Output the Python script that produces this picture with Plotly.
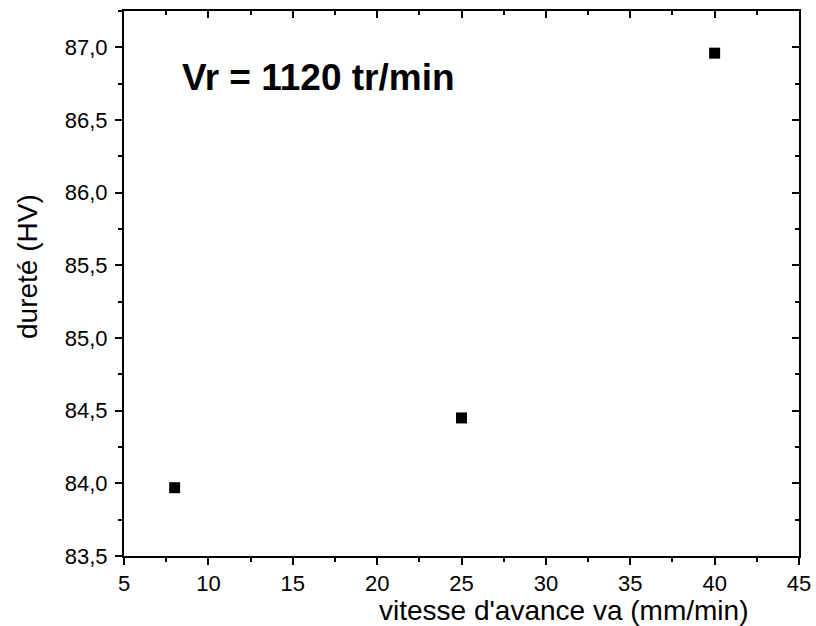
import plotly.graph_objects as go

vitesse = [8, 25, 40]
durete = [83.97, 84.45, 86.96]
x_range = [5, 45]
y_range = [83.5, 87.25]

fig = go.Figure()
fig.add_trace(go.Scatter(x=vitesse, y=durete, mode="markers",
                         marker=dict(symbol="square", size=11, color="black"),
                         showlegend=False))
fig.add_trace(go.Scatter(x=[None], y=[None], xaxis="x2", yaxis="y2", showlegend=False))

FAM = "Liberation Sans, Arial"
font = dict(family=FAM, size=22, color="black")
common = dict(showline=True, linewidth=2, linecolor="black", showgrid=False,
              zeroline=False, tickfont=font, tickwidth=2, ticklen=7, tickcolor="black")

fig.update_layout(
    width=816, height=626,
    margin=dict(l=124, r=17, t=11, b=70, autoexpand=False),
    plot_bgcolor="white", paper_bgcolor="white",
    separators=", ",
    xaxis=dict(range=x_range, dtick=5, tick0=0, ticks="outside",
               minor=dict(ticks="outside", ticklen=4, dtick=2.5, tick0=0, tickwidth=2, tickcolor="black"),
               **common),
    yaxis=dict(range=y_range, dtick=0.5, tick0=0, ticks="outside", tickformat=".1f",
               ticklabelstandoff=3,
               minor=dict(ticks="outside", ticklen=4, dtick=0.25, tick0=0, tickwidth=2, tickcolor="black"),
               **common),
    xaxis2=dict(range=x_range, dtick=5, tick0=0, ticks="inside", overlaying="x", side="top",
                showticklabels=False, anchor="y2",
                minor=dict(ticks="inside", ticklen=4, dtick=2.5, tick0=0, tickwidth=2, tickcolor="black"),
                **common),
    yaxis2=dict(range=y_range, dtick=0.5, tick0=0, ticks="inside", overlaying="y", side="right",
                showticklabels=False, anchor="x2",
                minor=dict(ticks="inside", ticklen=4, dtick=0.25, tick0=0, tickwidth=2, tickcolor="black"),
                **common),
)

fig.add_annotation(text="vitesse d'avance va (mm/min)", xref="paper", yref="paper",
                   x=(563 - 124) / 675, y=0, yshift=-54, xanchor="center", yanchor="middle",
                   showarrow=False, font=dict(family=FAM, size=28, color="black"))
fig.add_annotation(text="dureté (HV)", xref="paper", yref="paper",
                   x=0, xshift=-97, y=(556 - 267) / 545, xanchor="center", yanchor="middle",
                   textangle=-90, showarrow=False,
                   font=dict(family=FAM, size=28, color="black"))
fig.add_annotation(text="<b>Vr = 1120 tr/min</b>", x=8.3, y=86.79, xanchor="left", yanchor="middle",
                   showarrow=False, font=dict(family=FAM, size=37, color="black"))

fig.write_html("out.html", config={"displayModeBar": False},
               post_script="document.body.style.margin='0px';")
